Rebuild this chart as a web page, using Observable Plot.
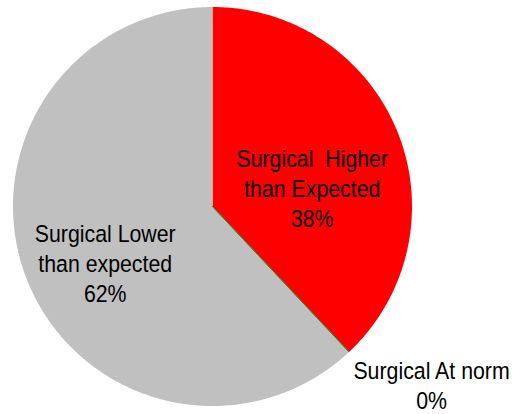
<!DOCTYPE html>
<html><head><meta charset="utf-8">
<script src="https://cdn.jsdelivr.net/npm/d3@7"></script>
<script src="https://cdn.jsdelivr.net/npm/@observablehq/plot@0.6"></script>
<style>body{margin:0;background:#fff}</style>
</head><body><div id="chart"></div>
<script>
const categories = ["Surgical  Higher\nthan Expected", "Surgical At norm", "Surgical Lower\nthan expected"];
const values = [38, 0, 62];
const colors = ["#ff0000", "#2e8b2e", "#c0c0c0"];

const total = d3.sum(values);
const pie = d3.pie().sort(null).value(d => d)(values);
const poly = [];
pie.forEach((s, i) => {
  const n = Math.max(2, Math.ceil((s.endAngle - s.startAngle) * 80));
  poly.push({i, x: 0, y: 0});
  for (let k = 0; k <= n; k++) {
    const a = s.startAngle + (s.endAngle - s.startAngle) * k / n;
    poly.push({i, x: Math.sin(a), y: Math.cos(a)});
  }
  poly.push({i, x: 0, y: 0});
});
const labelStyle = [
  {r: 0.5, dx: 7, dy: 18},
  {r: 1.15, dx: 62, dy: 11},
  {r: 0.6, dx: 4, dy: 12}
];
const labels = pie.map((s, i) => {
  const a = (s.startAngle + s.endAngle) / 2;
  const st = labelStyle[i];
  return {i, x: st.r * Math.sin(a), y: st.r * Math.cos(a),
    text: categories[i] + "\n" + Math.round(values[i] / total * 100) + "%"};
});

const cx = 212, cy = 206, R = 199.5;
const chart = Plot.plot({
  width: 515, height: 414,
  margin: 0,
  x: {domain: [-1, 1], range: [cx - R, cx + R], axis: null},
  y: {domain: [-1, 1], range: [cy + R, cy - R], axis: null},
  marks: [
    Plot.line(poly.filter(d => values[d.i] > 0), {x: "x", y: "y", z: "i", fill: d => colors[d.i], stroke: "none", curve: "linear"}),
    Plot.line(poly.filter(d => values[d.i] === 0), {x: "x", y: "y", z: "i", stroke: d => colors[d.i], strokeWidth: 1, fill: "none"}),
    ...labels.map((d, i) => Plot.text([d], {x: "x", y: "y", text: "text", dx: labelStyle[i].dx, dy: labelStyle[i].dy,
      fontSize: 24.5, lineHeight: 1.22, fill: "#000", textAnchor: "middle", lineAnchor: "middle",
      fontFamily: "'Liberation Sans', Arial, sans-serif"}))
  ],
  style: {background: "#fff"}
});
chart.querySelectorAll("text").forEach(t => {
  const tr = t.getAttribute("transform");
  if (tr) t.setAttribute("transform", tr + " scale(0.87,1)");
});
document.getElementById("chart").appendChild(chart);
</script>
</body></html>
